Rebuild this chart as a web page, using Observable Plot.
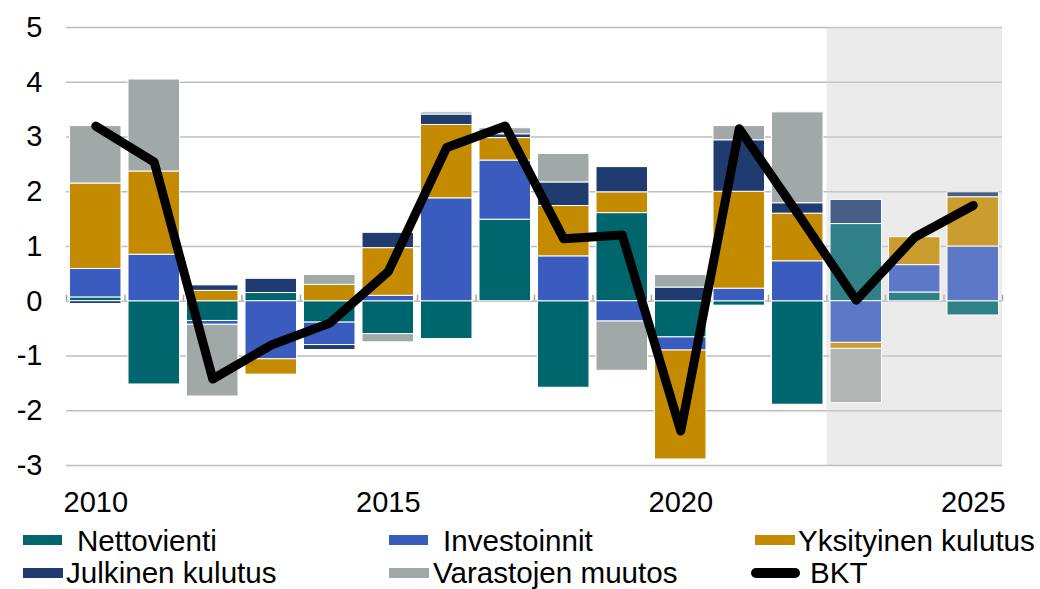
<!DOCTYPE html>
<html><head><meta charset="utf-8">
<script src="https://cdn.jsdelivr.net/npm/d3@7"></script>
<script src="https://cdn.jsdelivr.net/npm/@observablehq/plot@0.6"></script>
<style>
body{margin:0;background:#fff;font-family:"Liberation Sans",Arial,sans-serif;}
#wrap{width:1040px;height:589px;position:relative;overflow:hidden}
#legend{position:relative;width:1040px;height:69px}
.sw{position:absolute;height:10px}
.lt{position:absolute;font-size:29.6px;line-height:29px;color:#000;white-space:nowrap}
</style></head><body><div id="wrap"><div id="chart"></div><div id="legend"></div></div>
<script>
const years = [2010,2011,2012,2013,2014,2015,2016,2017,2018,2019,2020,2021,2022,2023,2024,2025];
const seriesNames = ["Nettovienti","Investoinnit","Yksityinen kulutus","Julkinen kulutus","Varastojen muutos"];
const nettovienti  = [0.07,-1.52,-0.36,0.15,-0.39,-0.60,-0.69,1.49,-1.58,1.61,-0.66,-0.08,-1.89,1.41,0.16,-0.26];
const investoinnit = [0.52,0.85,-0.07,-1.06,-0.41,0.10,1.88,1.08,0.82,-0.37,-0.24,0.23,0.73,-0.76,0.50,1.00];
const yksityinen   = [1.56,1.52,0.19,-0.28,0.30,0.87,1.34,0.41,0.92,0.38,-1.99,1.77,0.87,-0.11,0.51,0.90];
const julkinen     = [-0.05,0.00,0.10,0.26,-0.09,0.28,0.19,0.07,0.43,0.46,0.25,0.94,0.19,0.44,0.00,0.09];
const varastot     = [1.05,1.68,-1.31,0.00,0.18,-0.15,0.04,0.11,0.52,-0.90,0.23,0.26,1.66,-0.99,0.00,0.00];
const bkt          = [3.20,2.54,-1.42,-0.80,-0.40,0.54,2.81,3.20,1.14,1.21,-2.37,3.15,1.60,0.02,1.17,1.75];
const yTicks = [-3,-2,-1,0,1,2,3,4,5];
const xTicks = [2010,2015,2020,2025];
const forecastFrom = 2023;
const colors = ["#00666e","#3a5cbf","#c48a00","#1f3b6f","#a0a9a7"];

const seriesValues = [nettovienti, investoinnit, yksityinen, julkinen, varastot];
const half = 0.44;
const table = years.flatMap((yr, i) => seriesNames.map((s, k) => ({year: yr, x1: yr - half, x2: yr + half, series: s, value: seriesValues[k][i]})));
const lineData = years.map((yr, i) => ({year: yr, value: bkt[i]}));
const xMin = years[0] - 0.5, xMax = years[years.length - 1] + 0.5;
const yMin = yTicks[0], yMax = yTicks[yTicks.length - 1];
const forecast = [{start: forecastFrom - 0.5, end: xMax}];
const boundaries = years.map(y => y - 0.5).concat([xMax]);

const chart = Plot.plot({
  width: 1040, height: 520,
  marginLeft: 66, marginRight: 38, marginTop: 27, marginBottom: 55,
  style: {fontSize: "29px", fontFamily: "'Liberation Sans', Arial, sans-serif", color: "#000", background: "transparent"},
  x: {type: "linear", domain: [xMin, xMax], ticks: xTicks, tickFormat: d => String(d), tickSize: 0, tickPadding: 26, label: null},
  y: {domain: [yMin, yMax], ticks: yTicks, tickFormat: d => String(d), tickSize: 0, tickPadding: 24, label: null},
  color: {domain: seriesNames, range: colors},
  marks: [
    Plot.rect(forecast, {x1: "start", x2: "end", y1: () => yMin, y2: () => yMax, fill: "#ebebeb"}),
    Plot.ruleY(yTicks, {stroke: "#bdbdbd", strokeWidth: 1.5}),
    Plot.ruleX(boundaries, {y1: () => 0, y2: () => 0.11, stroke: "#a6a6a6", strokeWidth: 1.5}),
    Plot.rectY(table, {x1: "x1", x2: "x2", y: "value", fill: "series", stroke: "white", strokeWidth: 1}),
    Plot.rect(forecast, {x1: "start", x2: "end", y1: () => yMin, y2: () => yMax, fill: "#ebebeb", fillOpacity: 0.2}),
    Plot.line(lineData, {x: "year", y: "value", stroke: "black", strokeWidth: 9, strokeLinejoin: "round", strokeLinecap: "round"})
  ]
});
document.getElementById("chart").appendChild(chart);

// legend
const legendItems = [
  {label: seriesNames[0], color: colors[0], sw: [23, 15, 39], tx: [77, 6]},
  {label: seriesNames[1], color: colors[1], sw: [389, 15, 39], tx: [443, 6]},
  {label: seriesNames[2], color: colors[2], sw: [755, 15, 40], tx: [798, 6]},
  {label: seriesNames[3], color: colors[3], sw: [23, 48, 40], tx: [66, 38]},
  {label: seriesNames[4], color: colors[4], sw: [389, 48, 40], tx: [433, 38]},
  {label: "BKT", color: "#000", line: true, sw: [751, 48, 49], tx: [810, 38]}
];
const leg = document.getElementById("legend");
for (const it of legendItems) {
  const sw = document.createElement("div");
  sw.className = "sw";
  sw.style.left = it.sw[0] + "px";
  sw.style.top = it.sw[1] + "px";
  sw.style.width = it.sw[2] + "px";
  sw.style.background = it.color;
  if (it.line) sw.style.borderRadius = "5px";
  leg.appendChild(sw);
  const t = document.createElement("div");
  t.className = "lt";
  t.style.left = it.tx[0] + "px";
  t.style.top = it.tx[1] + "px";
  t.textContent = it.label;
  leg.appendChild(t);
}
</script></body></html>
